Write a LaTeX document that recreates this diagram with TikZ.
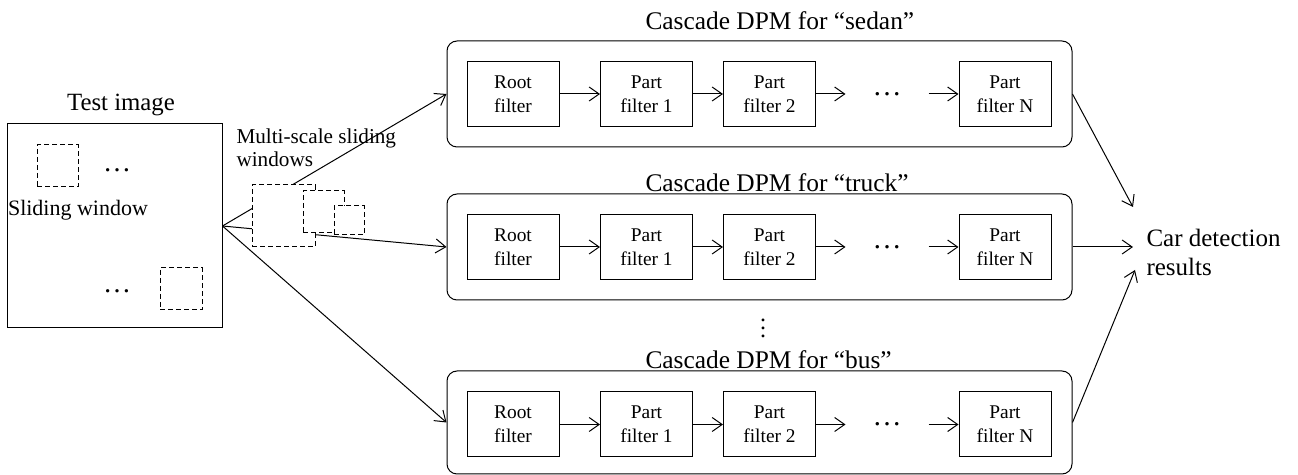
\documentclass[tikz,border=0pt]{standalone}
\usepackage{fontspec}
\setmainfont{Liberation Serif}
\usetikzlibrary{arrows.meta}
\begin{document}
\begin{tikzpicture}[x=0.5pt, y=-0.5pt, line width=0.5pt,
			>={Straight Barb[length=5pt,width=7pt]},
			filter/.style={rectangle, draw, minimum width=46pt, minimum height=32.5pt, inner sep=1pt, align=center, font=\fontsize{9.7}{12}\selectfont},
			cascade/.style={rectangle, draw, rounded corners=5pt, minimum width=312.5pt, minimum height=53pt},
			title/.style={anchor=west, inner sep=0pt, font=\fontsize{12.7}{14}\selectfont},
			win/.style={rectangle, draw, dashed, dash pattern=on 2.5pt off 1.5pt, fill=white, inner sep=0pt},
			gap/.style={minimum width=41pt, inner sep=0pt, font=\fontsize{14.5}{16}\selectfont}]
			\useasboundingbox (0,0) rectangle (1298,475);
			% test image
			\node[draw, minimum width=107.5pt, minimum height=102pt, inner sep=0pt] (img) at (114.5,226) {};
			\node[font=\fontsize{12.4}{14}\selectfont] (imgt) at (121,105) {Test image};
			\node[win, minimum width=20.5pt, minimum height=21pt] (sw1) at (57.5,166) {};
			\node[win, minimum width=21pt, minimum height=21pt] (sw2) at (181,289) {};
			\node[inner sep=0pt, font=\fontsize{14}{16}\selectfont] (dt1) at (117,170) {\dots};
			\node[inner sep=0pt, font=\fontsize{14}{16}\selectfont] (dt2) at (117,291) {\dots};
			\node[font=\fontsize{11}{13}\selectfont, inner sep=0pt] (swt) at (78,210) {Sliding window};
			% cascades
			\node[cascade] (c1) at (759.5,94) {};
			\node[cascade] (c2) at (759.5,247) {};
			\node[cascade, minimum height=51.5pt] (c3) at (759.5,422.5) {};
			\node[title] (t1) at (645,21) {Cascade DPM for “sedan”};
			\node[title] (t2) at (645,183) {Cascade DPM for “truck”};
			\node[title] (t3) at (645,360) {Cascade DPM for “bus”};
			\node[font=\fontsize{12}{14}\selectfont] (vd) at (763,322) {$\vdots$};
			\node[filter] (root1) at (513,94) {Root\\filter};
			\node[filter] (pa1) at (646.5,94) {Part\\filter 1};
			\node[filter] (pb1) at (769.5,94) {Part\\filter 2};
			\node[gap] (d1) at (887,94) {\dots};
			\node[filter] (pn1) at (1005,94) {Part\\filter N};
			\node[filter] (root2) at (513,247) {Root\\filter};
			\node[filter] (pa2) at (646.5,247) {Part\\filter 1};
			\node[filter] (pb2) at (769.5,247) {Part\\filter 2};
			\node[gap] (d2) at (887,247) {\dots};
			\node[filter] (pn2) at (1005,247) {Part\\filter N};
			\node[filter] (root3) at (513,424.5) {Root\\filter};
			\node[filter] (pa3) at (646.5,424.5) {Part\\filter 1};
			\node[filter] (pb3) at (769.5,424.5) {Part\\filter 2};
			\node[gap] (d3) at (887,424.5) {\dots};
			\node[filter] (pn3) at (1005,424.5) {Part\\filter N};
			\draw[->] (root1) -- (pa1);
			\draw[->] (pa1) -- (pb1);
			\draw[->] (pb1) -- (d1);
			\draw[->] (d1) -- (pn1);
			\draw[->] (root2) -- (pa2);
			\draw[->] (pa2) -- (pb2);
			\draw[->] (pb2) -- (d2);
			\draw[->] (d2) -- (pn2);
			\draw[->] (root3) -- (pa3);
			\draw[->] (pa3) -- (pb3);
			\draw[->] (pb3) -- (d3);
			\draw[->] (d3) -- (pn3);
			% sliding windows to the cascades
			\draw[->] (img.east) -- (c1.west);
			\draw[->] (img.east) -- (c2.west);
			\draw[->] (img.east) -- (c3.west);
			\node[win, minimum width=31.5pt, minimum height=31pt] (mw1) at (283.5,216) {};
			\node[win, minimum width=20.5pt, minimum height=21pt] (mw2) at (323.5,212) {};
			\node[win, minimum width=15pt, minimum height=14.5pt] (mw3) at (349,220.5) {};
			\node[anchor=west, align=left, inner sep=0pt, font=\fontsize{10.6}{11.5}\selectfont] (mst) at (236,148) {Multi-scale sliding\\windows};
			% results
			\node[anchor=west, align=left, inner sep=0pt, font=\fontsize{12.5}{14.5}\selectfont] (res) at (1146,252) {Car detection\\results};
			\coordinate (e1) at (1133,207);
			\coordinate (e2) at (1133,247);
			\coordinate (e3) at (1135,270);
			\draw[->] (c1.east) -- (e1);
			\draw[->] (c2.east) -- (e2);
			\draw[->] (c3.east) -- (e3);
		\end{tikzpicture}
\end{document}
